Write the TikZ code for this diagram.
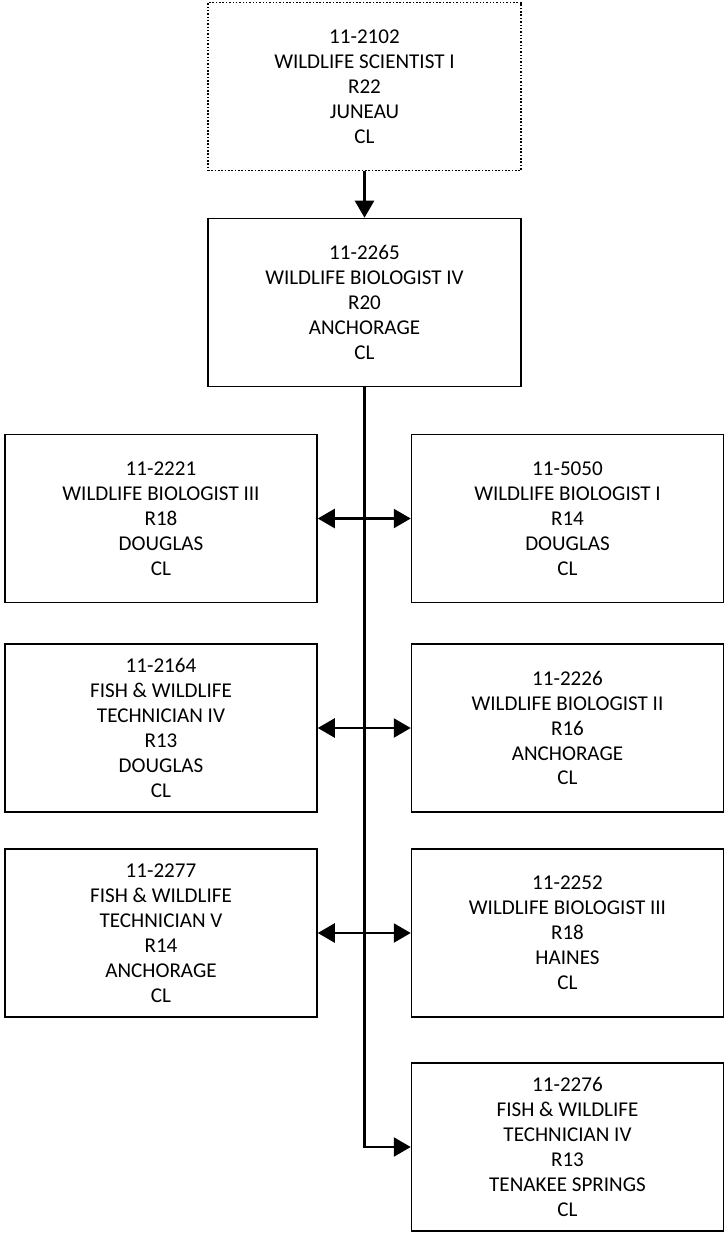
\documentclass[tikz,border=0pt]{standalone}
\usepackage{fontspec}
\setmainfont{Carlito}
\usetikzlibrary{positioning}
\usetikzlibrary{arrows.meta}

\tikzset{
    posbox/.style={draw, line width=0.9pt, align=center, inner sep=2pt,
        font=\fontsize{12}{14.2}\selectfont},
    wide/.style={minimum width=6.24cm, minimum height=3.36cm},
    link/.style={line width=1.4pt, -{Triangle[length=0.34cm,width=0.38cm]}},
    twoway/.style={line width=1.4pt, {Triangle[length=0.34cm,width=0.38cm]}-{Triangle[length=0.34cm,width=0.38cm]}}
}

\begin{document}
\begin{tikzpicture}[x=0.02cm, y=-0.02cm]
    \useasboundingbox (0,0) rectangle (727,1233);

    % Supervisor and lead
    \node[posbox, wide, densely dotted, minimum width=6.26cm] (boss) at (364.5,86.5)
        {11-2102\\WILDLIFE SCIENTIST I\\R22\\JUNEAU\\CL};
    \node[posbox, wide, minimum width=6.26cm] (lead) at (364.5,302.5)
        {11-2265\\WILDLIFE BIOLOGIST IV\\R20\\ANCHORAGE\\CL};

    % Left column
    \node[posbox, wide] (biothree) at (161,518.5)
        {11-2221\\WILDLIFE BIOLOGIST III\\R18\\DOUGLAS\\CL};
    \node[posbox, wide] (techfour) at (161,728)
        {11-2164\\FISH \& WILDLIFE\\TECHNICIAN IV\\R13\\DOUGLAS\\CL};
    \node[posbox, wide] (techfive) at (161,933)
        {11-2277\\FISH \& WILDLIFE\\TECHNICIAN V\\R14\\ANCHORAGE\\CL};

    % Right column
    \node[posbox, wide] (bioone) at (567.5,518.5)
        {11-5050\\WILDLIFE BIOLOGIST I\\R14\\DOUGLAS\\CL};
    \node[posbox, wide] (biotwo) at (567.5,728)
        {11-2226\\WILDLIFE BIOLOGIST II\\R16\\ANCHORAGE\\CL};
    \node[posbox, wide] (biohaines) at (567.5,933)
        {11-2252\\WILDLIFE BIOLOGIST III\\R18\\HAINES\\CL};
    \node[posbox, wide] (techtenakee) at (567.5,1147)
        {11-2276\\FISH \& WILDLIFE\\TECHNICIAN IV\\R13\\TENAKEE SPRINGS\\CL};

    % Connectors
    \draw[link] (boss.south) -- (lead.north);
    \draw[link] (lead.south) |- (techtenakee.west);
    \draw[twoway] (biothree.east) -- (bioone.west);
    \draw[twoway] (techfour.east) -- (biotwo.west);
    \draw[twoway] (techfive.east) -- (biohaines.west);
\end{tikzpicture}
\end{document}
